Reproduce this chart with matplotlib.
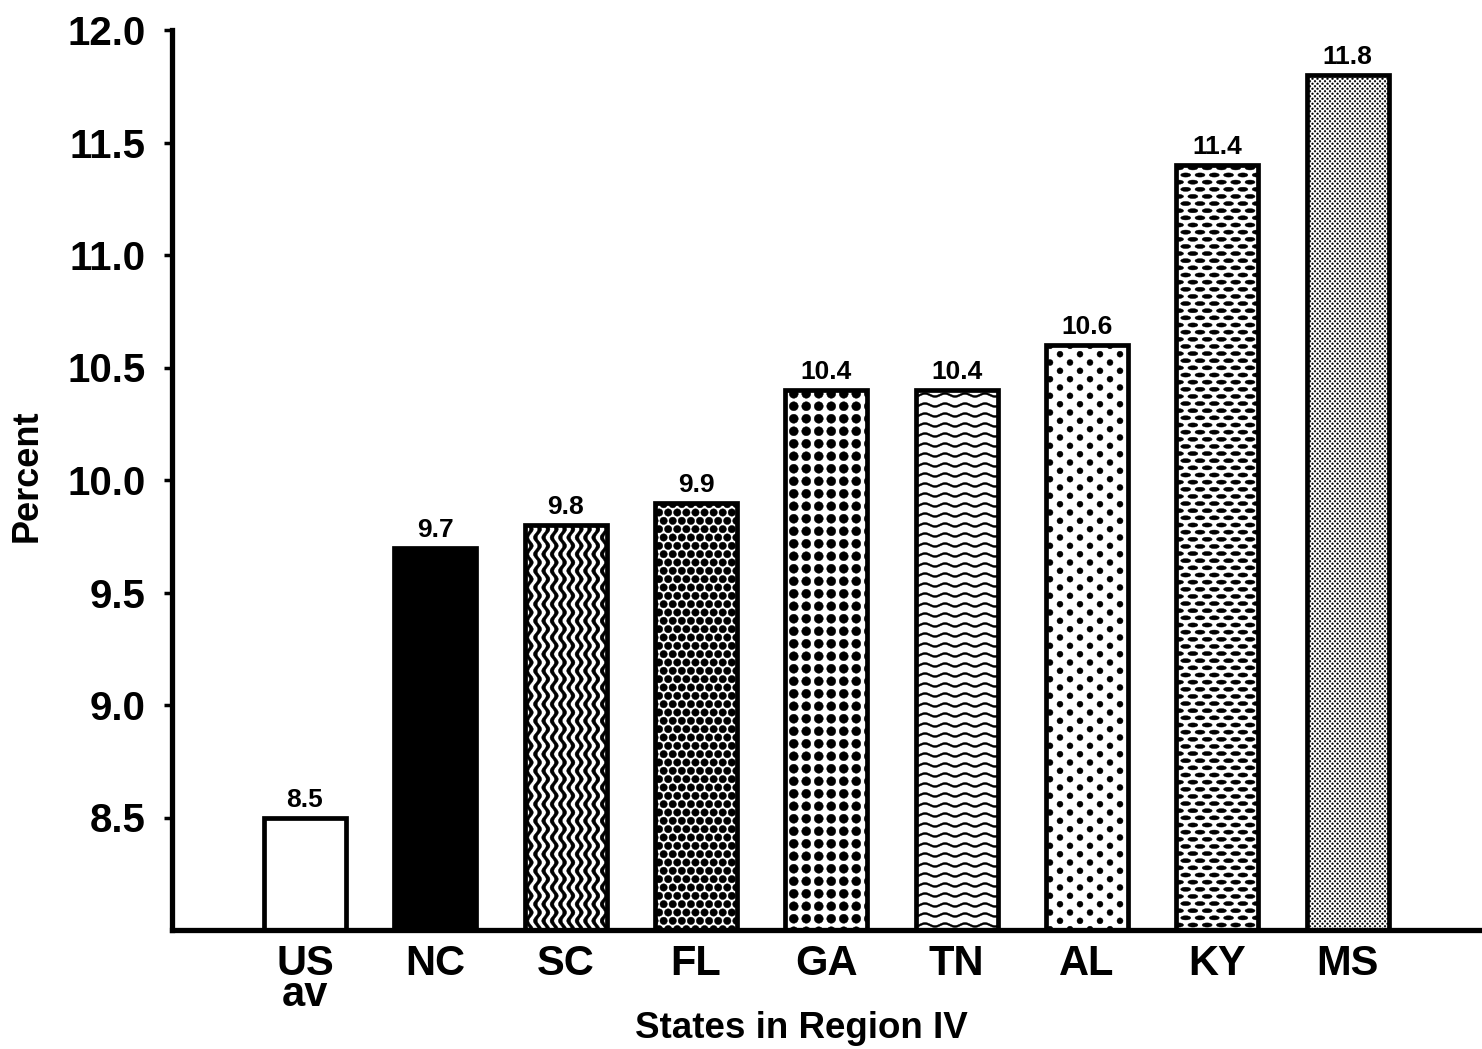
import warnings
warnings.filterwarnings('ignore')
import numpy as np
import matplotlib
matplotlib.use('Agg')
import matplotlib.pyplot as plt
import matplotlib.hatch as mhatch
from matplotlib.path import Path

# ---------------- data ----------------
states = ['US\nav', 'NC', 'SC', 'FL', 'GA', 'TN', 'AL', 'KY', 'MS']
percent = [8.5, 9.7, 9.8, 9.9, 10.4, 10.4, 10.6, 11.4, 11.8]
value_labels = ['8.5', '9.7', '9.8', '9.9', '10.4', '10.4', '10.6', '11.4', '11.8']
yticks = [8.5, 9.0, 9.5, 10.0, 10.5, 11.0, 11.5, 12.0]
ytick_labels = ['8.5', '9.0', '9.5', '10.0', '10.5', '11.0', '11.5', '12.0']
xlabel = 'States in Region IV'
ylabel = 'Percent'

# ---------------- custom fill patterns (hatches) ----------------
def _shapes(centers, rx, ry):
    uc = Path.unit_circle()
    verts = [uc.vertices * [rx, ry] + c for c in centers]
    codes = [uc.codes for _ in centers]
    return np.concatenate(verts), np.concatenate(codes)


def _lattice(ncol, nrow, shift=True):
    cs = []
    for j in range(nrow):
        y = (j + 0.5) / nrow
        if shift and j % 2 == 1:
            xs = np.arange(ncol + 1) / ncol
        else:
            xs = (np.arange(ncol) + 0.5) / ncol
        cs += [(xx, y) for xx in xs]
    return np.array(cs)


def _waves(n, periods, amp, hw, vertical):
    t = np.linspace(-0.02, 1.02, 240)
    w = amp * np.sin(2 * np.pi * periods * t)
    verts, codes = [], []
    for i in range(n):
        base = (i + 0.5) / n
        if vertical:
            a = np.column_stack([base + w - hw, t])
            b = np.column_stack([base + w + hw, t])[::-1]
        else:
            a = np.column_stack([t, base + w - hw])
            b = np.column_stack([t, base + w + hw])[::-1]
        pts = np.concatenate([a, b, a[:1]])
        c = np.full(len(pts), Path.LINETO, dtype=Path.code_type)
        c[0] = Path.MOVETO
        c[-1] = Path.CLOSEPOLY
        verts.append(pts)
        codes.append(c)
    return np.concatenate(verts), np.concatenate(codes)


def _make_hatch(char, builder):
    class _H(mhatch.HatchPatternBase):
        def __init__(self, hatch, density):
            if hatch is not None and char in hatch:
                self._v, self._c = builder()
            else:
                self._v = np.empty((0, 2))
                self._c = np.empty(0, Path.code_type)
            self.num_vertices = len(self._v)

        def set_vertices_and_codes(self, vertices, codes):
            vertices[:] = self._v
            codes[:] = self._c
    mhatch._hatch_types.append(_H)


_make_hatch('w', lambda: _waves(12, 6, 0.022, 0.019, True))       # SC vertical waves
_make_hatch('h', lambda: _waves(10, 5, 0.015, 0.010, False))      # TN horizontal waves
_make_hatch('f', lambda: _shapes(_lattice(11, 12), 0.037, 0.037))  # FL dense dots
_make_hatch('g', lambda: _shapes(_lattice(8, 8, False), 0.045, 0.045))  # GA grid dots
_make_hatch('a', lambda: _shapes(_lattice(5, 12), 0.030, 0.030))   # AL sparse dots
_make_hatch('k', lambda: _shapes(_lattice(7, 14), 0.050, 0.021))   # KY dashes
_make_hatch('m', lambda: _shapes(_lattice(20, 40), 0.009, 0.009))  # MS fine stipple

bar_hatches = [None, None, 'w', 'f', 'g', 'h', 'a', 'k', 'm']
bar_faces = ['white', 'black', 'white', 'white', 'white', 'white', 'white', 'white', 'white']

# ---------------- figure ----------------
plt.rcParams['font.family'] = ['Liberation Sans', 'DejaVu Sans']
plt.rcParams['font.weight'] = 'bold'
plt.rcParams['hatch.linewidth'] = 0.3
plt.rcParams['hatch.color'] = 'black'

fig = plt.figure(figsize=(14.82, 10.49), dpi=100)
fig.patch.set_facecolor('white')
ax = fig.add_axes([172 / 1482, 119 / 1049, 1310 / 1482, 900 / 1049])

x = np.arange(len(states))
for xi, v, fc, h, lbl in zip(x, percent, bar_faces, bar_hatches, value_labels):
    ax.bar(xi, v, width=0.63, color=fc, edgecolor='black', linewidth=3.4, hatch=h)
    ax.annotate(lbl, (xi, v), xytext=(0, 4), textcoords='offset points',
                ha='center', va='bottom', fontsize=19, fontweight='bold')

ax.set_ylim(8.0, 12.0)
ax.set_xlim(-1.02, 9.03)

for s in ['top', 'right']:
    ax.spines[s].set_visible(False)
for s in ['left', 'bottom']:
    ax.spines[s].set_linewidth(3.8)

ax.set_yticks(yticks, ytick_labels)
ax.set_xticks(x, states)
ax.tick_params(axis='y', direction='out', length=6, width=2.5, pad=13, labelsize=29)
ax.tick_params(axis='x', length=0, pad=10, labelsize=30)
for t in ax.get_xticklabels():
    t.set_linespacing(0.72)
    t.set_fontweight('bold')
for t in ax.get_yticklabels():
    t.set_fontweight('bold')

fig.text(801 / 1482, 21 / 1049, xlabel, ha='center', va='center',
         fontsize=26.5, fontweight='bold')
fig.text(27 / 1482, 0.547, ylabel, ha='center', va='center', rotation=90,
         fontsize=26, fontweight='bold')

fig.savefig('out.png', dpi=100, facecolor='white')
